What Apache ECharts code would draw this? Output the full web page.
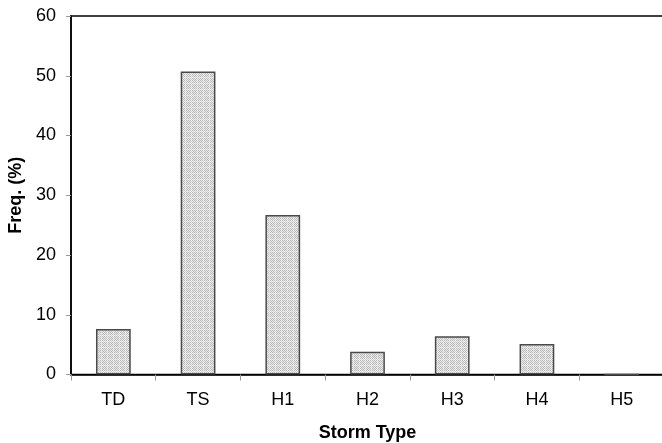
<!DOCTYPE html>
<html>
<head>
<meta charset="utf-8">
<script src="https://cdn.jsdelivr.net/npm/echarts@6/dist/echarts.min.js"></script>
<style>
  html, body { margin: 0; padding: 0; background: #fff; }
  #chart { width: 662px; height: 443px; }
</style>
</head>
<body>
<div id="chart"></div>
<script>
// Storm type frequency distribution
const categories = ['TD', 'TS', 'H1', 'H2', 'H3', 'H4', 'H5'];
const freqPercent = [7.6, 50.7, 26.7, 3.8, 6.4, 5.1, 0];
const yTicks = [0, 10, 20, 30, 40, 50, 60];

// Stippled grey fill for the bars: fine checker with faint lighter gridlines
function stipplePattern() {
  const n = 6;
  const c = document.createElement('canvas');
  c.width = n; c.height = n;
  const ctx = c.getContext('2d');
  for (let y = 0; y < n; y++) {
    for (let x = 0; x < n; x++) {
      let col = (x + y) % 2 === 0 ? '#b8b8b8' : '#ebebeb';
      if (x === n - 1 || y === n - 1) col = (x + y) % 2 === 0 ? '#d2d2d2' : '#f3f3f3';
      ctx.fillStyle = col;
      ctx.fillRect(x, y, 1, 1);
    }
  }
  return c;
}

const font = 'Liberation Sans, Arial, sans-serif';
const chart = echarts.init(document.getElementById('chart'), null, { renderer: 'canvas' });

chart.setOption({
  animation: false,
  backgroundColor: '#fff',
  grid: {
    left: 71, right: -2, top: 16, bottom: 68.5,
    outerBoundsMode: 'none',
    containLabel: false,
    show: true, borderColor: '#000', borderWidth: 1.5, backgroundColor: 'transparent'
  },
  xAxis: {
    type: 'category',
    data: categories,
    name: 'Storm Type',
    nameLocation: 'middle',
    nameGap: 50,
    nameTextStyle: { fontFamily: font, fontSize: 18, fontWeight: 'bold', color: '#000' },
    axisLine: { lineStyle: { color: '#000', width: 1.5 } },
    axisTick: { show: true, length: 6, lineStyle: { color: '#999', width: 1 } },
    axisLabel: { fontFamily: font, fontSize: 18, color: '#000', margin: 17 },
    splitLine: { show: false }
  },
  yAxis: {
    type: 'value',
    min: yTicks[0],
    max: yTicks[yTicks.length - 1],
    interval: 10,
    name: 'Freq. (%)',
    nameLocation: 'middle',
    nameGap: 46,
    nameRotate: 90,
    nameTextStyle: { fontFamily: font, fontSize: 18, fontWeight: 'bold', color: '#000' },
    axisLine: { show: true, lineStyle: { color: '#000', width: 1.5 } },
    axisTick: { show: true, length: 5, lineStyle: { color: '#999', width: 1 } },
    axisLabel: { fontFamily: font, fontSize: 18, color: '#000', margin: 15 },
    splitLine: { show: false }
  },
  series: [{
    type: 'bar',
    data: freqPercent,
    barWidth: '41%',
    itemStyle: {
      color: { image: stipplePattern(), repeat: 'repeat' },
      borderColor: '#4a4a4a',
      borderWidth: 1.5
    },
    emphasis: { disabled: true }
  }]
});
</script>
</body>
</html>
